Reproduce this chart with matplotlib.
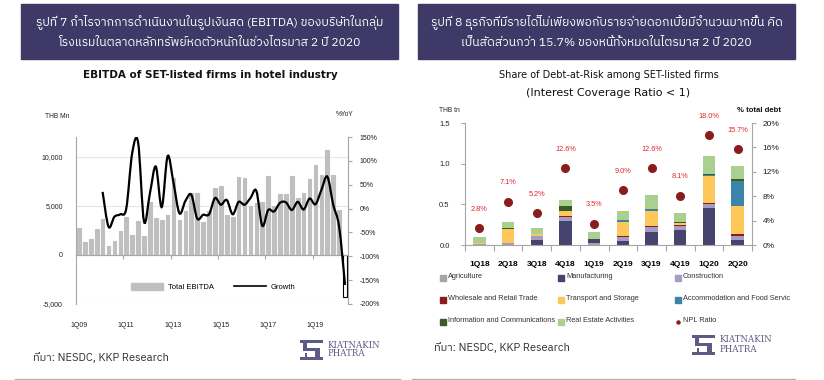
import numpy as np
import matplotlib
matplotlib.use('Agg')
import matplotlib.pyplot as plt
from matplotlib.path import Path
from matplotlib.patches import PathPatch, Rectangle
from matplotlib.lines import Line2D
from matplotlib import font_manager
from matplotlib.ticker import FuncFormatter

W, H = 824, 380

# ---------------- data: EBITDA of hotel firms (left)
quarters = ['%dQ%02d' % (q, y) for y in range(9, 21) for q in range(1, 5)][:46]
ebitda = [2700, 1300, 1600, 2600, 3700, 900, 1400, 2400, 3900, 2000, 3400, 1900,
          5400, 3800, 3600, 4100, 7800, 3600, 4500, 6300, 6300, 3300, 4500, 6800,
          7000, 4100, 3900, 7900, 7800, 5000, 5300, 5400, 8000, 5000, 6200, 6200,
          8000, 5800, 6300, 7700, 9100, 8100, 10700, 8100, 4600, -4300]
growth = [None, None, None, None,
          35, -38, -17, -12, 0, 116, 139, -27, 32, 88, 3, 110,
          53, -10, 16, 29, -21, -13, -12, 22, 8, 18, -12, 14,
          8, 22, 37, -36, -3, -6, 12, 13, -3, 14, -2, 21,
          9, 39, 67, 8, -38, -160]

# ---------------- data: debt-at-risk (right)
periods = ['1Q18', '2Q18', '3Q18', '4Q18', '1Q19', '2Q19', '3Q19', '4Q19', '1Q20', '2Q20']
agriculture   = [0.005, 0, 0, 0, 0.022, 0, 0, 0, 0, 0]
manufacturing = [0, 0, 0.065, 0.30, 0.048, 0.045, 0.16, 0.18, 0.455, 0.06]
construction  = [0.01, 0.025, 0.05, 0.05, 0, 0.05, 0.06, 0.05, 0.05, 0.05]
wholesale     = [0, 0, 0, 0.012, 0, 0.012, 0.012, 0.012, 0.012, 0.025]
transport     = [0.01, 0.175, 0.02, 0.06, 0, 0.18, 0.185, 0.025, 0.33, 0.345]
accommodation = [0, 0, 0, 0, 0, 0.022, 0.025, 0, 0.012, 0.31]
info_comm     = [0, 0.012, 0, 0.06, 0, 0, 0, 0.012, 0.012, 0.025]
real_estate   = [0.075, 0.07, 0.075, 0.075, 0.085, 0.11, 0.172, 0.11, 0.22, 0.16]
npl_ratio     = [2.8, 7.1, 5.2, 12.6, 3.5, 9.0, 12.6, 8.1, 18.0, 15.7]

sectors = [('Agriculture', agriculture, '#a5a5a5'),
           ('Manufacturing', manufacturing, '#46436f'),
           ('Construction', construction, '#a19dc6'),
           ('Wholesale and Retail Trade', wholesale, '#8c1c1c'),
           ('Transport and Storage', transport, '#fec75a'),
           ('Accommodation and Food Servic', accommodation, '#3c83a8'),
           ('Information and Communications', info_comm, '#3a5a28'),
           ('Real Estate Activities', real_estate, '#a9d08e')]

title_left = ['รูปที่ 7 กำไรจากการดำเนินงานในรูปเงินสด (EBITDA) ของบริษัทในกลุ่ม',
              'โรงแรมในตลาดหลักทรัพย์หดตัวหนักในช่วงไตรมาส 2 ปี 2020']
title_right = ['รูปที่ 8 ธุรกิจที่มีรายได้ไม่เพียงพอกับรายจ่ายดอกเบี้ยมีจำนวนมากขึ้น คิด',
               'เป็นสัดส่วนกว่า 15.7% ของหนี้ทั้งหมดในไตรมาส 2 ปี 2020']
source = 'ที่มา: NESDC, KKP Research'

# find a font that has Thai glyphs
thai_font = None
try:
    from fontTools.ttLib import TTFont
    cands = sorted(font_manager.fontManager.ttflist,
                   key=lambda f: (0 if 'Thai' in f.name else 1, f.name))
    for f in cands:
        try:
            cm = TTFont(f.fname, fontNumber=0, lazy=True).getBestCmap()
        except Exception:
            continue
        if cm and 0x0E01 in cm:
            thai_font = f.name
            break
except ImportError:
    pass
thai_fam = [thai_font, 'DejaVu Sans'] if thai_font else ['DejaVu Sans']

plt.rcParams['font.family'] = ['Liberation Sans', 'DejaVu Sans']

BANNER = '#3e3966'
GREY = '#a6a6a6'
LOGO = '#5e5a86'

fig = plt.figure(figsize=(W / 100, H / 100), dpi=100)


def px_axes(l, t, r, b):
    return fig.add_axes([l / W, 1 - b / H, (r - l) / W, (b - t) / H])


def fx(x):
    return x / W


def fy(y):
    return 1 - y / H


def smooth_path(xs, ys):
    pts = np.column_stack([xs, ys]).astype(float)
    verts = [pts[0]]
    codes = [Path.MOVETO]
    n = len(pts)
    for i in range(n - 1):
        p0 = pts[max(i - 1, 0)]
        p1, p2 = pts[i], pts[i + 1]
        p3 = pts[min(i + 2, n - 1)]
        verts += [p1 + (p2 - p0) / 6, p2 - (p3 - p1) / 6, p2]
        codes += [Path.CURVE4] * 3
    return Path(verts, codes)


def draw_banner(l, r, lines):
    fig.patches.append(Rectangle((fx(l), fy(59)), fx(r - l), 55 / H,
                                 transform=fig.transFigure, color=BANNER, zorder=0))
    cx = (l + r) / 2
    for k, s in enumerate(lines):
        fig.text(fx(cx), fy(22 + 20 * k), s, color='white', fontsize=8.7,
                 ha='center', va='center', family=thai_fam)


def draw_logo(x, y):
    lax = px_axes(x, y, x + 23, y + 20)
    lax.set_xlim(0, 1)
    lax.set_ylim(0, 1)
    lax.axis('off')
    for (a, b, w, h) in [(0, 0.86, 1, 0.14), (0.12, 0.45, 0.2, 0.45), (0.12, 0.45, 0.75, 0.14),
                         (0.67, 0.14, 0.2, 0.45), (0, 0, 1, 0.14), (0.2, 0.14, 0.12, 0.2)]:
        lax.add_patch(Rectangle((a, b), w, h, color=LOGO, lw=0))
    fig.text(fx(x + 28), fy(y + 5), 'KIATNAKIN', family='DejaVu Serif', fontsize=6.2,
             color=LOGO, va='center')
    fig.text(fx(x + 28), fy(y + 14), 'PHATRA', family='DejaVu Serif', fontsize=6.2,
             color=LOGO, va='center')


# ---------------- banners
draw_banner(21, 398, title_left)
draw_banner(418, 795, title_right)

# ---------------- left chart
ax = px_axes(76, 137, 348, 304)
x = np.arange(len(quarters))
bar_cols = ['#bfbfbf' if v >= 0 else 'white' for v in ebitda]
edge_cols = ['#bfbfbf' if v >= 0 else 'black' for v in ebitda]
ax.bar(x, ebitda, width=0.62, color=bar_cols, edgecolor=edge_cols, linewidth=0.8, zorder=2)
ax.set_xlim(-0.5, len(quarters) - 0.5)
ax.set_ylim(-5000, 12000)
ax.set_yticks([-5000, 0, 5000, 10000])
ax.yaxis.set_major_formatter(FuncFormatter(lambda v, p: '{:,.0f}'.format(v)))
ax.tick_params(axis='y', length=0, labelsize=5, pad=9.5, colors='#222222')
ax.grid(axis='y', color='#e6e6e6', lw=0.8, zorder=0)
ax.spines['top'].set_visible(False)
ax.spines['right'].set_visible(False)
ax.spines['left'].set_color(GREY)
ax.spines['bottom'].set_position(('data', 0))
ax.spines['bottom'].set_color(GREY)
ax.set_xticks(np.arange(7.5, 45, 8))
ax.set_xticklabels([])
ax.set_xticks(x[::8], minor=True)
ax.set_xticklabels(quarters[::8], minor=True)
ax.tick_params(axis='x', which='major', length=3, color=GREY, direction='out')
ax.tick_params(axis='x', which='minor', length=0, labelsize=5, pad=48, colors='#222222')

ax2 = ax.twinx()
ax2.set_ylim(-200, 150)
ax2.set_yticks(np.arange(-200, 151, 50))
ax2.yaxis.set_major_formatter(FuncFormatter(lambda v, p: '%d%%' % v))
ax2.tick_params(axis='y', length=3, labelsize=5, pad=5.5, colors=GREY, labelcolor='#222222')
for s in ['top', 'left', 'bottom']:
    ax2.spines[s].set_visible(False)
ax2.spines['right'].set_color(GREY)
gx = [i for i, g in enumerate(growth) if g is not None]
gy = [g for g in growth if g is not None]
ax2.add_patch(PathPatch(smooth_path(gx, gy), fill=False, lw=1.6, color='black', zorder=3))

handles = [Rectangle((0, 0), 1, 1, color='#bfbfbf'), Line2D([], [], color='black', lw=1.2)]
ax.legend(handles, ['Total EBITDA', 'Growth'], ncol=2, frameon=False, fontsize=5.5,
          handlelength=4.2, handleheight=1.0, columnspacing=2.6, handletextpad=0.6,
          loc='center', bbox_to_anchor=(fx(213), fy(287)), bbox_transform=fig.transFigure)

fig.text(fx(210), fy(75), 'EBITDA of SET-listed firms in hotel industry', ha='center',
         va='center', fontsize=7.5, weight='bold', family='DejaVu Sans', color='#111111')
fig.text(fx(45), fy(116), 'THB Mn', fontsize=4.8, va='center', color='#222222')
fig.text(fx(336), fy(115), '%YoY', fontsize=4.8, va='center', color='#222222')

# ---------------- right chart
bx = px_axes(465, 123, 752, 245)
xr = np.arange(len(periods))
bottom = np.zeros(len(periods))
for name, vals, col in sectors:
    bx.bar(xr, vals, bottom=bottom, width=0.43, color=col, zorder=2)
    bottom += np.array(vals)
bx.set_xlim(-0.5, len(periods) - 0.5)
bx.set_ylim(0, 1.5)
bx.set_yticks([0, 0.5, 1.0, 1.5])
bx.yaxis.set_major_formatter(FuncFormatter(lambda v, p: '%.1f' % v))
bx.tick_params(axis='y', length=3, color=GREY, labelsize=5.5, pad=8, labelcolor='#222222')
bx.set_xticks(np.arange(-0.5, len(periods), 1))
bx.set_xticklabels([])
bx.set_xticks(xr, minor=True)
bx.set_xticklabels(periods, minor=True)
bx.tick_params(axis='x', which='major', length=4, color=GREY)
bx.tick_params(axis='x', which='minor', length=0, labelsize=6, pad=11.5)
for lab in bx.get_xticklabels(minor=True):
    lab.set_fontweight('bold')
bx.spines['top'].set_visible(False)
bx.spines['right'].set_visible(False)
bx.spines['left'].set_color(GREY)
bx.spines['bottom'].set_color(GREY)

bx2 = bx.twinx()
bx2.set_ylim(0, 20)
bx2.set_yticks(np.arange(0, 21, 4))
bx2.yaxis.set_major_formatter(FuncFormatter(lambda v, p: '%d%%' % v))
bx2.tick_params(axis='y', length=3, color=GREY, labelsize=6, pad=4.5, labelcolor='#222222')
for s in ['top', 'left', 'bottom']:
    bx2.spines[s].set_visible(False)
bx2.spines['right'].set_color(GREY)
bx2.plot(xr, npl_ratio, 'o', color='#8b1c1c', ms=5.5, zorder=4, clip_on=False)
for i, v in enumerate(npl_ratio):
    bx2.annotate('%.1f%%' % v, (xr[i], v), xytext=(0, 13.5), textcoords='offset points',
                 ha='center', va='center', fontsize=5.3, color='#e0262b', annotation_clip=False)

fig.text(fx(609), fy(75), 'Share of Debt-at-Risk among SET-listed firms', ha='center',
         va='center', fontsize=7, family='DejaVu Sans', color='#111111')
fig.text(fx(608), fy(93), '(Interest Coverage Ratio < 1)', ha='center', va='center',
         fontsize=8, family='DejaVu Sans', color='#111111')
fig.text(fx(439), fy(111), 'THB tn', fontsize=4.8, va='center', color='#222222')
fig.text(fx(737), fy(111), '% total debt', fontsize=5.6, va='center', weight='bold',
         color='#111111')

# legend of the right chart, three per row
col_x = [443, 561, 678]
row_y = [277, 299, 321]
items = [(n, c) for n, v, c in sectors] + [('NPL Ratio', None)]
for k, (name, col) in enumerate(items):
    cx, cy = col_x[k % 3], row_y[k // 3]
    if col is None:
        fig.add_artist(Line2D([fx(cx)], [fy(cy + 1)], marker='o', ms=2.2, color='#8b1c1c',
                              transform=fig.transFigure))
    else:
        fig.patches.append(Rectangle((fx(cx - 3), fy(cy + 4)), 6 / W, 6 / H, color=col,
                                     transform=fig.transFigure))
    fig.text(fx(cx + 5), fy(cy - 1), name, fontsize=5.3, va='center', color='#333333')

# ---------------- footers
fig.text(fx(33), fy(358), source, fontsize=8, va='center', color='#333333', family=thai_fam)
fig.text(fx(434), fy(348), source, fontsize=8, va='center', color='#333333', family=thai_fam)
draw_logo(300, 340)
draw_logo(692, 335)
fig.add_artist(Line2D([fx(15), fx(400)], [fy(379), fy(379)], color='#b3b3b3', lw=1,
                      transform=fig.transFigure))
fig.add_artist(Line2D([fx(412), fx(795)], [fy(379), fy(379)], color='#b3b3b3', lw=1,
                      transform=fig.transFigure))

fig.savefig('out.png', dpi=100)
